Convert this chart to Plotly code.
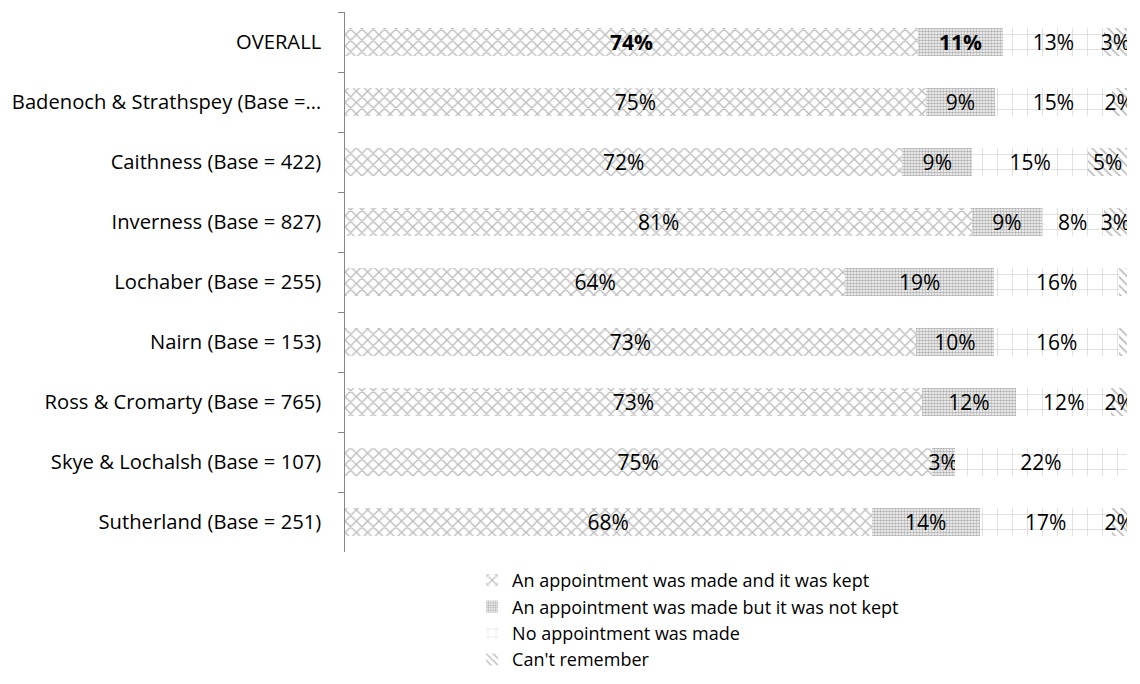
import plotly.graph_objects as go

categories = ["OVERALL", "Badenoch & Strathspey (Base =\u2026", "Caithness (Base = 422)",
              "Inverness (Base = 827)", "Lochaber (Base = 255)", "Nairn (Base = 153)",
              "Ross & Cromarty (Base = 765)", "Skye & Lochalsh (Base = 107)",
              "Sutherland (Base = 251)"]
kept = [74, 75, 72, 81, 64, 73, 73, 75, 68]
not_kept = [11, 9, 9, 9, 19, 10, 12, 3, 14]
no_appt = [13, 15, 15, 8, 16, 16, 12, 22, 17]
cant_remember = [3, 2, 5, 3, 1, 1, 2, 0, 2]

series_names = ["An appointment was made and it was kept",
                "An appointment was made but it was not kept",
                "No appointment was made",
                "Can't remember"]
series_values = [kept, not_kept, no_appt, cant_remember]
bold_first = [True, True, False, False]
patterns = [dict(shape="x", size=8, solidity=0.32, fgcolor="#7c7c7c"),
            dict(shape=".", size=3, solidity=0.6, fgcolor="#666666"),
            dict(shape="+", size=15, solidity=0.06, fgcolor="#7a7a7a"),
            dict(shape="\\", size=6, solidity=0.3, fgcolor="#7a7a7a")]

FONT = "Open Sans"

fig = go.Figure()
for name, vals, pat, bold in zip(series_names, series_values, patterns, bold_first):
    texts = []
    for i, v in enumerate(vals):
        if v < 2:
            texts.append("")
        elif i == 0 and bold:
            texts.append(f"<b>{v}%</b>")
        else:
            texts.append(f"{v}%")
    fig.add_trace(go.Bar(
        y=categories, x=vals, orientation="h", name=name,
        text=texts, textposition="inside", insidetextanchor="middle",
        textangle=0, textfont=dict(size=21, color="black", family=FONT),
        marker=dict(color="white", line=dict(width=0),
                    pattern=dict(bgcolor="white", **pat)),
        hoverinfo="skip",
    ))

fig.update_layout(
    barmode="stack", barnorm="percent", bargap=0.52,
    width=1132, height=676,
    margin=dict(l=337, r=13, t=4, b=132, autoexpand=False),
    paper_bgcolor="white", plot_bgcolor="white",
    font=dict(family=FONT, size=18, color="black"),
    uniformtext=dict(minsize=21, mode="show"),
    showlegend=True,
    legend=dict(orientation="v", x=0.1625, xanchor="left", y=-0.0185, yanchor="top",
                font=dict(size=18, family=FONT), itemwidth=30,
                tracegroupgap=0, traceorder="normal", bgcolor="rgba(0,0,0,0)"),
)
fig.update_xaxes(visible=False, range=[0, 100], showgrid=False, zeroline=False)
fig.update_yaxes(autorange="reversed", showline=True, linecolor="#868686", linewidth=1,
                 ticks="outside", ticklen=6, tickcolor="#868686", tickson="boundaries",
                 showgrid=False, automargin=False, ticksuffix="   ",
                 ticklabelstandoff=3,
                 tickfont=dict(size=20.2, family=FONT, color="black"))

fig.write_html("out.html")
